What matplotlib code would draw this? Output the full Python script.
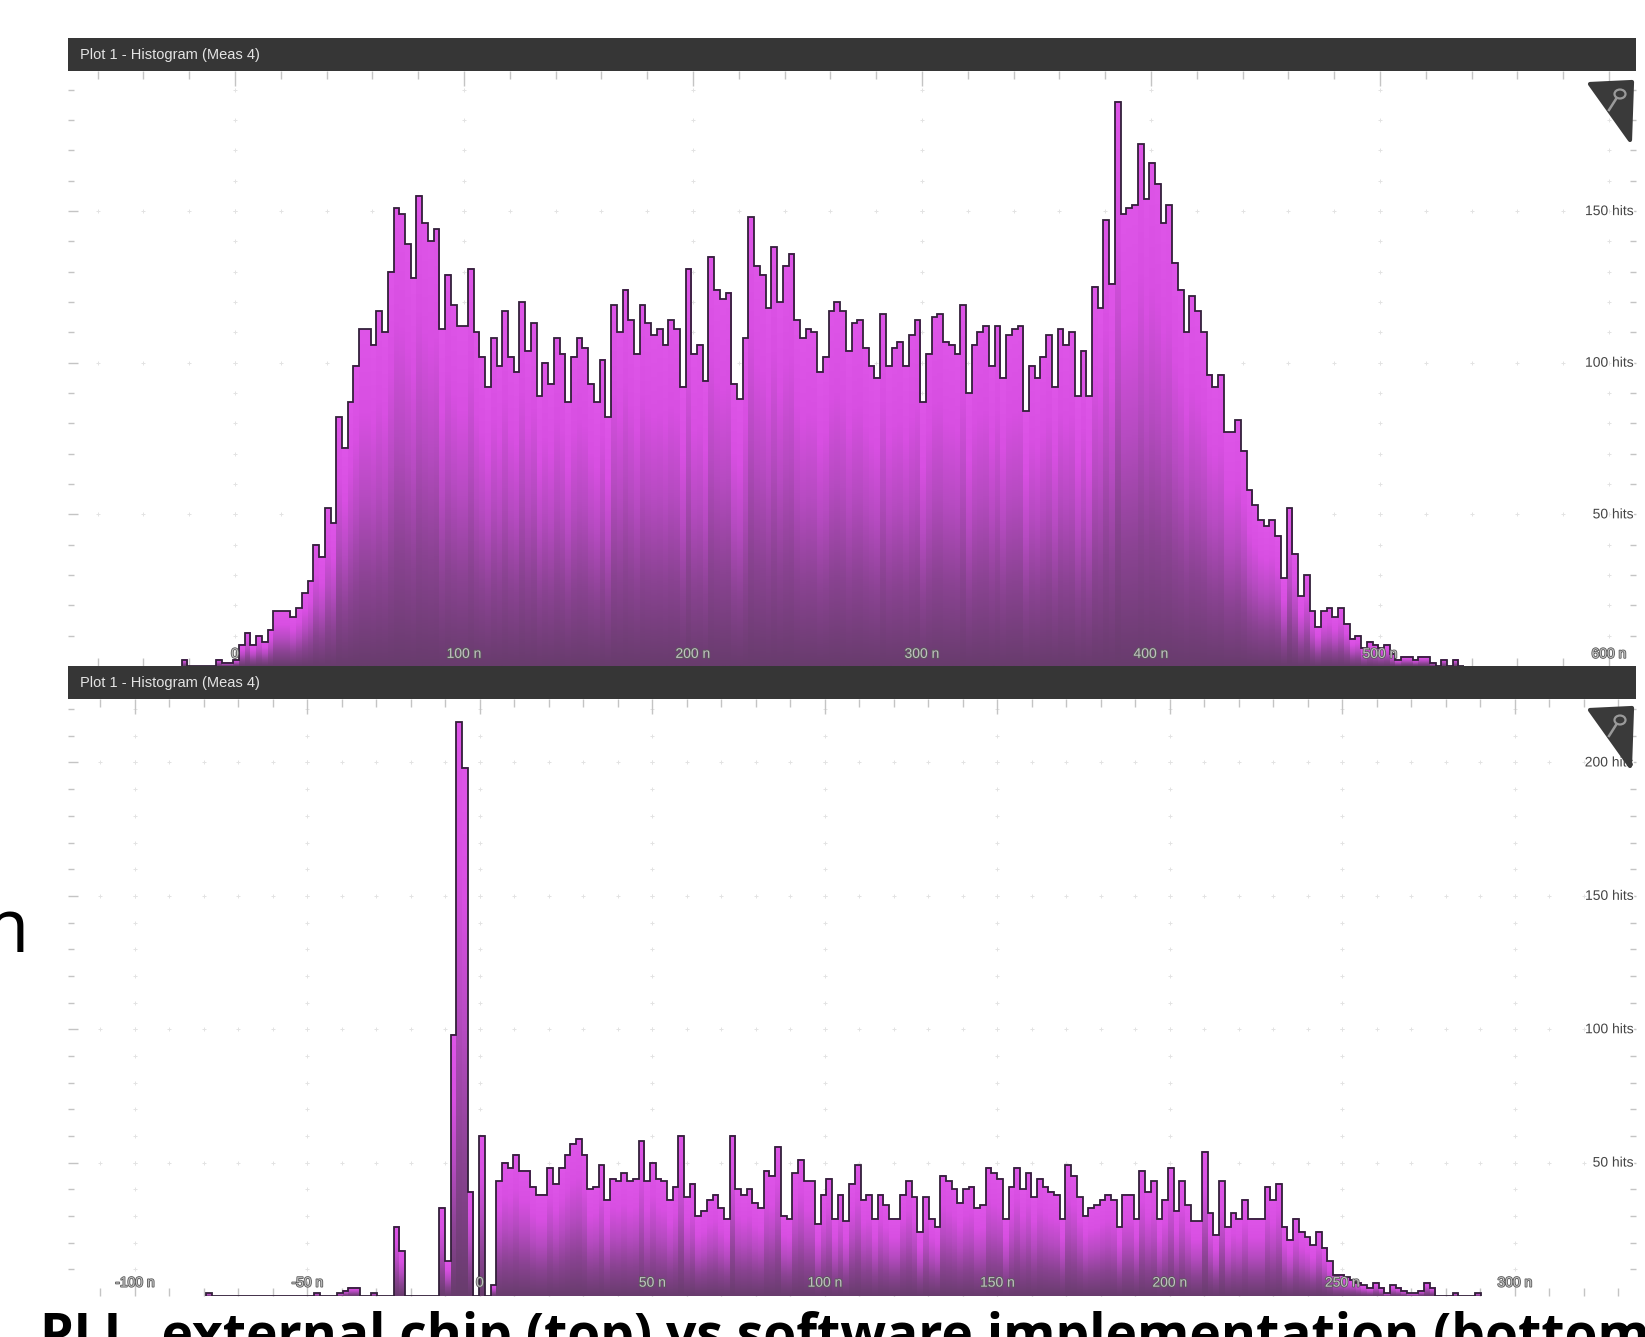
import numpy as np
import matplotlib
matplotlib.use("Agg")
import matplotlib.pyplot as plt
import matplotlib.patheffects as pe
from matplotlib.colors import LinearSegmentedColormap
from matplotlib.patches import Rectangle, Polygon, Circle
from matplotlib.lines import Line2D
from matplotlib.transforms import blended_transform_factory

W, H = 1645, 1337

# ---------------------------------------------------------------
# data: hits per bin
# ---------------------------------------------------------------
# top: PLL external chip, bins of 2.5 ns
top_first_edge = -23.25
top_bin_w = 2.5
top_hits = [
    2, 0, 0, 0, 0, 0, 2, 1, 1, 2,
    7, 11, 7, 10, 8, 12, 18, 18, 18, 16,
    19, 24, 28, 40, 36, 52, 47, 82, 72, 87,
    99, 111, 111, 106, 117, 110, 130, 151, 149, 139,
    128, 155, 146, 140, 144, 111, 129, 119, 112, 112,
    131, 110, 102, 92, 108, 99, 117, 102, 97, 120,
    104, 113, 89, 100, 93, 108, 103, 87, 102, 108, 105,
    93, 87, 101, 82, 119, 110, 124, 114, 103, 119,
    113, 109, 111, 106, 114, 111, 92, 131, 103, 106,
    94, 135, 124, 121, 123, 93, 88, 108, 148, 132,
    129, 118, 138, 120, 132, 136, 114, 108, 111, 110,
    97, 102, 117, 120, 117, 104, 113, 114, 105, 99,
    95, 116, 99, 105, 107, 99, 109, 114, 87, 103,
    115, 116, 107, 106, 103, 119, 90, 106, 110, 112,
    99, 112,
    95, 109, 111, 112, 84, 99, 95, 102, 109, 92,
    111, 106, 110, 89, 104, 89, 125, 118, 147, 126,
    186, 149, 151, 152, 172, 154, 166, 159, 146, 152,
    133, 124, 110, 122, 117, 110, 96, 92, 96, 77,
    77, 81, 71, 58, 53, 48, 46, 48, 43, 29,
    52, 37, 23, 30, 18, 13, 18, 19, 16, 19,
    14, 9, 10, 6, 8, 7, 6, 7, 4, 2, 3,
    3, 2, 3, 3, 1, 0, 2, 0, 2, 0,
]

# bottom: software implementation, bins of 1.65 ns
bot_first_edge = -79.42
bot_bin_w = 1.65
bot_hits = [
    1, 0, 0, 0, 0, 0, 0, 0, 0, 0, 0, 0, 0, 0, 0, 0, 0, 0, 0,
    1, 0, 0, 0, 1, 2, 3, 3, 0, 0, 1, 0, 0, 0, 26, 17,
    0, 0, 0, 0, 0, 0,
    33, 13, 98, 215, 198, 39, 0, 60, 0, 4,
    43, 50, 48, 53, 47, 47, 41, 38, 38, 48, 42, 48, 53, 57, 59, 53,
    40, 41, 49, 36, 44, 43, 46, 43, 44, 58, 43, 50, 44, 43, 36, 41,
    60, 37, 42, 30, 32, 36, 38, 33, 29, 60, 40, 38, 40, 35, 33, 47,
    45, 56, 30, 29, 46, 51, 43, 43,
    27, 38, 44, 29, 38, 28, 42, 49, 36, 38, 29, 38, 34, 29, 29, 38,
    43, 37, 24, 37, 29, 26, 45, 43, 40, 35, 40, 41, 33, 34, 48, 46,
    44, 29, 41, 48, 40, 46, 37, 44, 41, 39, 38, 29, 49, 45, 37, 30,
    33, 34, 36, 38, 36, 26, 38, 38, 29, 47, 39, 43, 29, 36, 48, 32,
    43, 34, 28, 28, 54, 31, 23, 43, 26, 31, 29, 36, 29, 29, 29, 41,
    36, 42, 26, 21, 29, 24, 22, 19, 24, 18, 13, 8, 8, 7, 6, 5,
    4, 3, 5, 3, 1, 4, 3, 2, 1, 1, 2, 5, 3, 0, 0, 0, 1, 0, 0, 0, 1,
]

top_xticks = [0, 100, 200, 300, 400, 500, 600]
top_xlabels = ["0", "100 n", "200 n", "300 n", "400 n", "500 n", "600 n"]
top_yticks = [50, 100, 150]
top_ylabels = ["50 hits", "100 hits", "150 hits"]

bot_xticks = [-100, -50, 0, 50, 100, 150, 200, 250, 300]
bot_xlabels = ["-100 n", "-50 n", "0", "50 n", "100 n", "150 n", "200 n", "250 n", "300 n"]
bot_yticks = [50, 100, 150, 200]
bot_ylabels = ["50 hits", "100 hits", "150 hits", "200 hits"]

panel_title = "Plot 1 - Histogram (Meas 4)"
caption = "PLL  external chip (top) vs software implementation (bottom)"

SCOPE_FONT = ["Liberation Sans", "DejaVu Sans"]
bar_cmap = LinearSegmentedColormap.from_list(
    "tekmag", ["#683c6d", "#8a4392", "#b64bc1", "#d84fe2", "#de55e8"])


def px_rect(x0, y0, x1, y1):
    return [x0 / W, 1 - y1 / H, (x1 - x0) / W, (y1 - y0) / H]


def title_bar(fig, y0, y1):
    fig.add_artist(Rectangle((68 / W, 1 - y1 / H), (1636 - 68) / W, (y1 - y0) / H,
                             transform=fig.transFigure, facecolor="#363636",
                             edgecolor="none", zorder=5))
    fig.text(80 / W, 1 - (y0 + y1) / 2 / H, panel_title, color="#e4e4e4",
             fontsize=10.5, family=SCOPE_FONT, va="center", ha="left", zorder=6)


def zoom_icon(fig, y0):
    pts = [(1590, y0 + 2), (1632, y0), (1630, y0 + 58)]
    fig.add_artist(Polygon([(x / W, 1 - y / H) for x, y in pts], closed=True,
                           transform=fig.transFigure, facecolor="#3a3a3a",
                           edgecolor="#3a3a3a", linewidth=3, joinstyle="round",
                           zorder=7))
    fig.add_artist(Circle((1620 / W, 1 - (y0 + 12) / H), 5.5 / W,
                          transform=fig.transFigure, facecolor="none",
                          edgecolor="#9a9a9a", linewidth=1.6, zorder=8))
    fig.add_artist(Line2D([1616 / W, 1609 / W], [1 - (y0 + 17) / H, 1 - (y0 + 28) / H],
                          transform=fig.transFigure, color="#9a9a9a",
                          linewidth=1.8, zorder=8))


def histogram(ax, first_edge, bin_w, hits, xlim, ylim, xticks, xlabels,
              yticks, ylabels, x_minor, label_y):
    edges = first_edge + bin_w * np.arange(len(hits) + 1)
    grad = np.linspace(0, 1, 256).reshape(-1, 1)
    for i, h in enumerate(hits):
        if h <= 0:
            continue
        ax.imshow(grad, extent=(edges[i], edges[i + 1], 0, h), origin="lower",
                  aspect="auto", cmap=bar_cmap, vmin=0, vmax=1,
                  interpolation="bilinear", zorder=2)
    ax.stairs(hits, edges, color="#33203a", linewidth=1.3, zorder=3)

    # faint dotted grid
    for xv in xticks:
        ys = np.arange(10, ylim[1], 10)
        ax.plot(np.full(len(ys), xv), ys, ls="none", marker="+", ms=3,
                mew=0.7, color="#e3e3e3", zorder=1)
    for yv in yticks:
        xs = np.arange(np.ceil(xlim[0] / x_minor) * x_minor, xlim[1], x_minor)
        ax.plot(xs, np.full(len(xs), yv), ls="none", marker="+", ms=3,
                mew=0.7, color="#e3e3e3", zorder=1)

    ax.set_xlim(*xlim)
    ax.set_ylim(*ylim)
    for sp in ax.spines.values():
        sp.set_visible(False)
    ax.set_xticks(xticks)
    ax.set_xticks(np.arange(np.ceil(xlim[0] / x_minor) * x_minor, xlim[1], x_minor),
                  minor=True)
    ax.set_yticks(yticks)
    ax.set_yticks(np.arange(10, ylim[1], 10), minor=True)
    ax.tick_params(which="both", direction="in", top=True, bottom=True,
                   left=True, right=True, labelbottom=False, labelleft=False,
                   color="#c4c4c4", width=1)
    ax.tick_params(axis="x", which="major", length=11)
    ax.tick_params(axis="x", which="minor", length=6)
    ax.tick_params(axis="y", which="major", length=7)
    ax.tick_params(axis="y", which="minor", length=4.5)

    halo = [pe.withStroke(linewidth=1.2, foreground="#5a5a5a")]
    for xv, lab in zip(xticks, xlabels):
        ax.text(xv, label_y, lab, ha="center", va="center", fontsize=10,
                family=SCOPE_FONT, color="#c2c2c2", path_effects=halo, zorder=6)
    tr = blended_transform_factory(ax.transAxes, ax.transData)
    for yv, lab in zip(yticks, ylabels):
        ax.text(0.9985, yv, lab, transform=tr, ha="right", va="center",
                fontsize=10, family=SCOPE_FONT, color="#444444", zorder=6,
                path_effects=[pe.withStroke(linewidth=2, foreground="white")])


fig = plt.figure(figsize=(W / 100, H / 100), dpi=100)
fig.patch.set_facecolor("white")

# top panel
ax1 = fig.add_axes(px_rect(68, 71, 1636, 666))
histogram(ax1, top_first_edge, top_bin_w, top_hits,
          xlim=(-72.9, 611.8), ylim=(0, 196.2),
          xticks=top_xticks, xlabels=top_xlabels,
          yticks=top_yticks, ylabels=top_ylabels,
          x_minor=20, label_y=4)
title_bar(fig, 38, 71)
zoom_icon(fig, 82)

# bottom panel
ax2 = fig.add_axes(px_rect(68, 699, 1636, 1296))
histogram(ax2, bot_first_edge, bot_bin_w, bot_hits,
          xlim=(-119.4, 335.1), ylim=(0, 223.8),
          xticks=bot_xticks, xlabels=bot_xlabels,
          yticks=bot_yticks, ylabels=bot_ylabels,
          x_minor=10, label_y=5)
title_bar(fig, 666, 699)
zoom_icon(fig, 708)

# slide text around the screenshot
fig.text(40 / W, 1 - 1352 / H, caption, fontsize=38.5, weight="bold",
         family=["Open Sans", "DejaVu Sans"], color="black", ha="left",
         va="baseline")
fig.text(29 / W, 1 - 952 / H, "m", fontsize=54, family=["Open Sans", "DejaVu Sans"],
         color="black", ha="right", va="baseline")

fig.savefig("out.png", dpi=100)
